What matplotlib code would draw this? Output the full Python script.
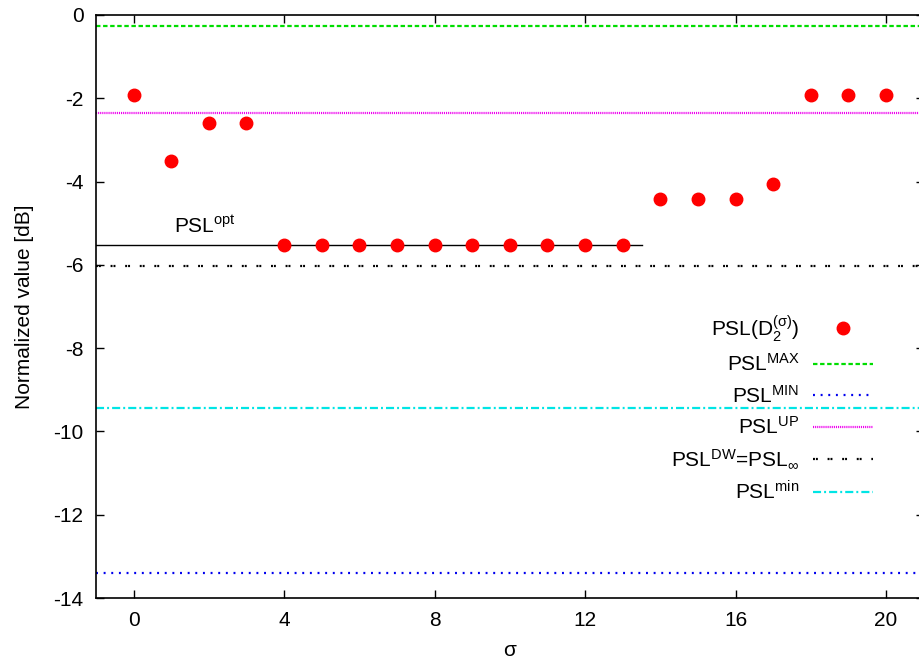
import matplotlib
matplotlib.use('Agg')
import matplotlib.pyplot as plt
from matplotlib.ticker import FuncFormatter

plt.rcParams['font.family'] = ['Liberation Sans', 'DejaVu Sans']
plt.rcParams['font.size'] = 15
plt.rcParams['mathtext.fontset'] = 'custom'
plt.rcParams['mathtext.rm'] = 'Liberation Sans'
plt.rcParams['mathtext.it'] = 'Liberation Sans'
plt.rcParams['mathtext.default'] = 'regular'
plt.rcParams['lines.scale_dashes'] = False

# data
sigma = list(range(21))
psl_d2 = [-1.92, -3.51, -2.60, -2.60, -5.53, -5.53, -5.53, -5.53, -5.53, -5.53,
          -5.53, -5.53, -5.53, -5.53, -4.41, -4.41, -4.41, -4.06, -1.92, -1.92, -1.92]
psl_max = -0.26
psl_min_big = -13.40
psl_up = -2.35
psl_dw = -6.03
psl_min = -9.44
psl_opt = -5.53
opt_x = [-1, 13.5]

fig = plt.figure(figsize=(9.19, 6.65), dpi=100)
ax = fig.add_axes([96 / 919, 1 - 598 / 665, (923.7 - 96) / 919, (598 - 15) / 665])

ax.plot(sigma, psl_d2, 'o', color='#ff0000', markersize=9, label='PSL(D$_2^{(σ)}$)', zorder=5)
ax.axhline(psl_max, color='#00dd00', lw=1.6, dashes=(3.2, 1.9), label='PSL$^{MAX}$')
ax.axhline(psl_min_big, color='#0000ee', lw=1.6, dashes=(1.4, 4.1), label='PSL$^{MIN}$')
ax.axhline(psl_up, color='#ee00ee', lw=1.6, dashes=(0.8, 0.7), label='PSL$^{UP}$')
ax.axhline(psl_dw, color='black', lw=1.6, dashes=(1.4, 0.7, 1.4, 7.0),
           label='PSL$^{DW}$=PSL$_∞$')
ax.axhline(psl_min, color='#00e5e5', lw=1.6, dashes=(5.8, 2.2, 1.4, 2.2), label='PSL$^{min}$')
ax.plot(opt_x, [psl_opt, psl_opt], color='black', lw=1)
ax.text(1.9, -5.24, 'PSL$^{opt}$', ha='center', va='baseline', fontsize=15)

ax.set_xlim(-1, 21)
ax.set_ylim(-14, 0)
ax.set_xticks([0, 4, 8, 12, 16, 20])
ax.set_yticks(list(range(-14, 1, 2)))
ax.yaxis.set_major_formatter(FuncFormatter(lambda v, p: '%d' % v))
ax.tick_params(direction='in', length=6, width=1, top=True, right=True, pad=9, labelsize=15)
for s in ax.spines.values():
    s.set_linewidth(1.2)

ax.set_xlabel('σ', labelpad=8, fontsize=15)
ax.set_ylabel('Normalized value [dB]', labelpad=14, fontsize=15)

leg = ax.legend(loc='upper right', bbox_to_anchor=(1 - (923.7 - 873) / 827.7, 1 - (313 - 15) / 583),
                markerfirst=False, frameon=False, handlelength=2.9, handletextpad=0.62,
                labelspacing=0.46, borderpad=0, borderaxespad=0, fontsize=15)

fig.savefig('out.png', dpi=100)
